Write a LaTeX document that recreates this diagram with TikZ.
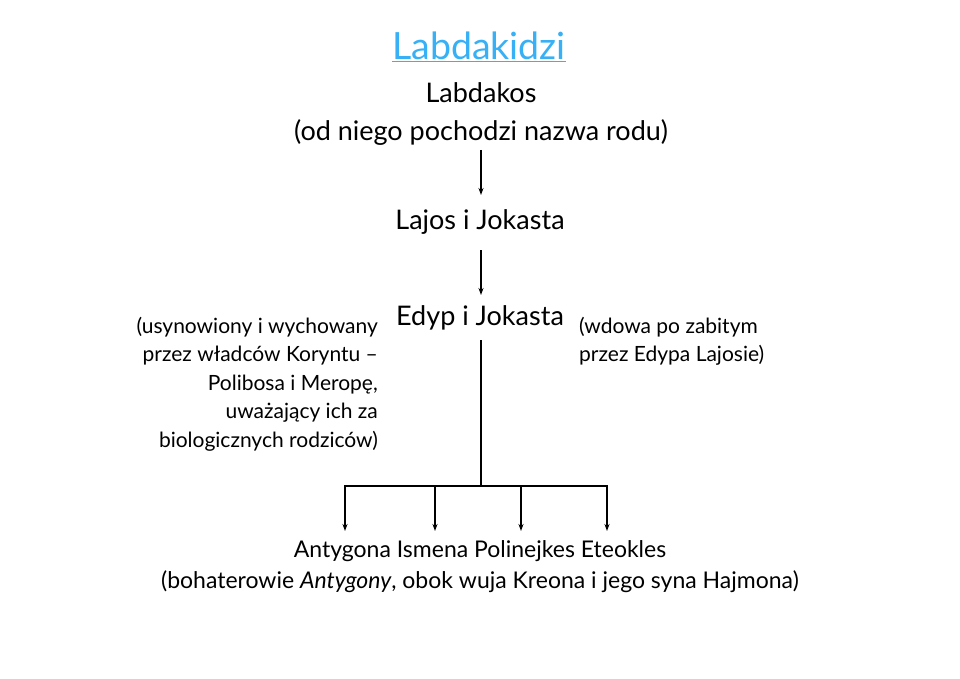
\documentclass[tikz,border=0pt]{standalone}
\usepackage{fontspec}
\setmainfont{Lato}
\usetikzlibrary{arrows.meta}
\definecolor{titleblue}{RGB}{56,176,245}
\begin{document}
\begin{tikzpicture}[x=1pt,y=-1pt,
  lbl/.style={inner sep=0pt,font=\fontsize{27}{38}\selectfont},
  note/.style={inner sep=0pt,font=\fontsize{21}{28.5}\selectfont},
  arr/.style={-{Stealth[length=7pt,width=5pt]},line width=1.4pt},
  ln/.style={line width=1.4pt}]
\useasboundingbox (0,0) rectangle (960,679);
\node[inner sep=0pt,font=\fontsize{37.5}{40}\selectfont,text=titleblue] (title) at (479,47) {\underline{Labdakidzi}};
\node[lbl,align=center] (lab) at (481,114) {Labdakos\\(od niego pochodzi nazwa rodu)};
\node[lbl] (laj) at (480,222) {Lajos i Jokasta};
\node[lbl] (edy) at (480,318) {Edyp i Jokasta};
\node[note,align=right,anchor=north east] (lnote) at (378,317) {(usynowiony i wychowany\\przez władców Koryntu –\\Polibosa i Meropę,\\uważający ich za\\biologicznych rodziców)};
\node[note,align=left,anchor=north west] (rnote) at (579,317) {(wdowa po zabitym\\przez Edypa Lajosie)};
\node[lbl,align=center,font=\fontsize{23}{31}\selectfont] (kids) at (480,567) {Antygona Ismena Polinejkes Eteokles\\(bohaterowie \textit{Antygony}, obok wuja Kreona i jego syna Hajmona)};
\coordinate (top1) at (481,150);
\coordinate (bot1) at (481,195);
\coordinate (top2) at (481,250);
\coordinate (bot2) at (481,295);
\coordinate (stem) at (481,340);
\coordinate (br) at (481,486);
\coordinate (a1) at (345,486);
\coordinate (a2) at (435,486);
\coordinate (a3) at (521,486);
\coordinate (a4) at (607,486);
\draw[arr] (top1) -- (bot1);
\draw[arr] (top2) -- (bot2);
\draw[ln] (stem) -- (br);
\draw[ln] ([xshift=-0.7pt]a1) -- ([xshift=0.7pt]a4);
\foreach \c in {a1,a2,a3,a4} \draw[arr] (\c) -- ++(0,45);
\end{tikzpicture}
\end{document}
